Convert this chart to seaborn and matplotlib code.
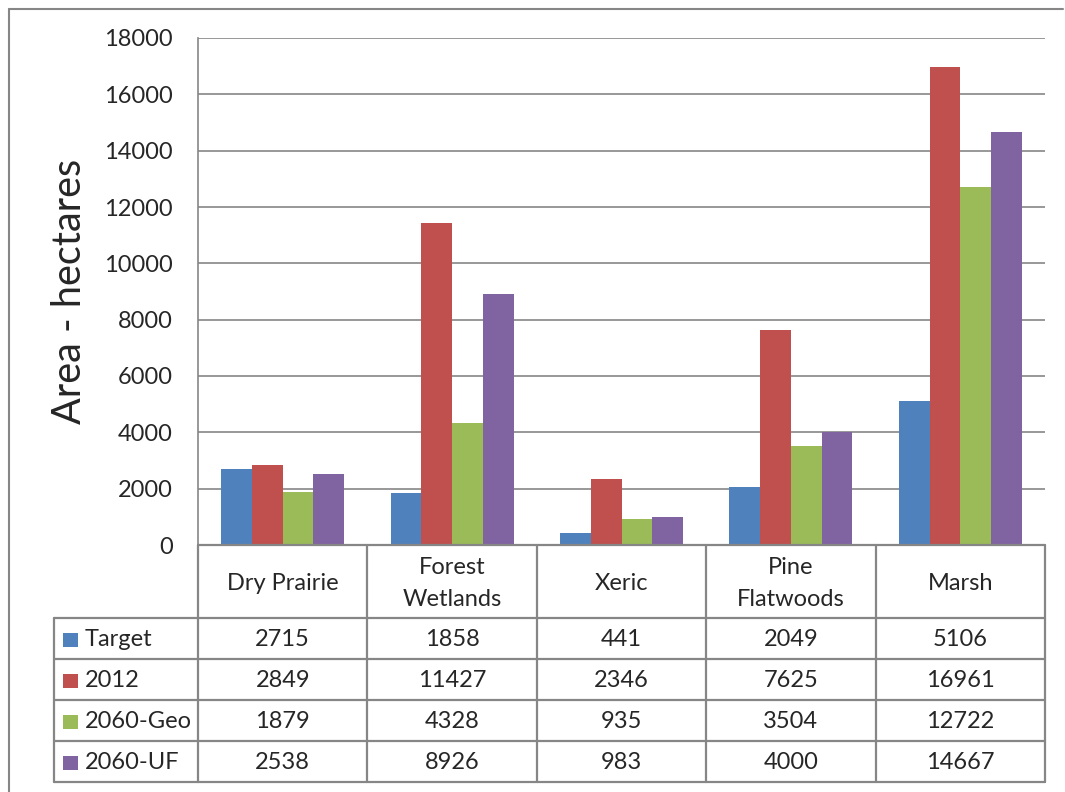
import pandas as pd
import numpy as np
import matplotlib
matplotlib.use('Agg')
import matplotlib.pyplot as plt
import seaborn as sns
from matplotlib.lines import Line2D
from matplotlib.patches import Rectangle

habitats = ['Dry Prairie', 'Forest Wetlands', 'Xeric', 'Pine Flatwoods', 'Marsh']
header_labels = ['Dry Prairie', 'Forest\nWetlands', 'Xeric', 'Pine\nFlatwoods', 'Marsh']
series_names = ['Target', '2012', '2060-Geo', '2060-UF']
target = [2715, 1858, 441, 2049, 5106]
area_2012 = [2849, 11427, 2346, 7625, 16961]
geo_2060 = [1879, 4328, 935, 3504, 12722]
uf_2060 = [2538, 8926, 983, 4000, 14667]
y_ticks = [0, 2000, 4000, 6000, 8000, 10000, 12000, 14000, 16000, 18000]
colors = ['#4F81BD', '#C0504D', '#9BBB59', '#8064A2']

series_values = [target, area_2012, geo_2060, uf_2060]
rows = []
for name, vals in zip(series_names, series_values):
    for hab, v in zip(habitats, vals):
        rows.append({'Habitat': hab, 'Series': name, 'Area': v})
df = pd.DataFrame(rows)

sns.set_style('white')
plt.rcParams['font.family'] = ['Lato', 'DejaVu Sans']

W, H = 1065, 792
grid_col = '#868686'
fs = 17
fig = plt.figure(figsize=(W / 100, H / 100), dpi=100)

# plot area in pixels
px_left, px_right, px_top, px_bot = 198, 1045, 38, 545
ax = fig.add_axes([px_left / W, 1 - px_bot / H, (px_right - px_left) / W, (px_bot - px_top) / H])
ax.yaxis.grid(True, color=grid_col, linewidth=1.2)
ax.set_axisbelow(True)
sns.barplot(data=df, x='Habitat', y='Area', hue='Series', order=habitats, hue_order=series_names,
            palette=colors, width=0.727, gap=0, saturation=1, legend=False, ax=ax, linewidth=0)
ax.set_xlim(-0.5, len(habitats) - 0.5)
ax.set_ylim(0, 18000)
ax.set_yticks(y_ticks)
ax.set_yticklabels([str(t) for t in y_ticks], fontsize=fs)
ax.tick_params(axis='y', length=0, pad=18)
ax.set_xticks([])
ax.set_xlabel('')
ax.set_ylabel('Area - hectares', fontsize=28.5, labelpad=12)
for s in ['top', 'right', 'bottom']:
    ax.spines[s].set_visible(False)
ax.spines['left'].set_color(grid_col)
ax.spines['left'].set_linewidth(1.2)

# data table below the plot, drawn in pixel coordinates
tab = fig.add_axes([0, 0, 1, 1])
tab.set_xlim(0, W)
tab.set_ylim(H, 0)
tab.axis('off')
tab.patch.set_alpha(0)

col_edges = np.linspace(px_left, px_right, len(habitats) + 1)
col_centers = (col_edges[:-1] + col_edges[1:]) / 2
legend_left = 54
header_bot = 618
row_h = 41
row_edges = [header_bot + i * row_h for i in range(len(series_names) + 1)]
lw = 1.6

# horizontal lines
tab.plot([px_left, px_right], [px_bot, px_bot], color=grid_col, lw=lw)
for y in row_edges:
    tab.plot([legend_left, px_right], [y, y], color=grid_col, lw=lw)
# vertical lines
for x in col_edges:
    tab.plot([x, x], [px_bot, row_edges[-1]], color=grid_col, lw=lw)
tab.plot([legend_left, legend_left], [header_bot, row_edges[-1]], color=grid_col, lw=lw)

# header labels
for xc, lab in zip(col_centers, header_labels):
    tab.text(xc, (px_bot + header_bot) / 2 + 2, lab, ha='center', va='center', fontsize=fs,
             linespacing=1.6)

# legend keys and values
for i, (name, vals) in enumerate(zip(series_names, series_values)):
    yc = (row_edges[i] + row_edges[i + 1]) / 2 + 1
    tab.add_patch(Rectangle((63, yc - 7), 15, 14, color=colors[i], lw=0))
    tab.text(85, yc, name, ha='left', va='center', fontsize=fs)
    for xc, v in zip(col_centers, vals):
        tab.text(xc, yc, str(v), ha='center', va='center', fontsize=fs)

# outer chart frame
fig.add_artist(Line2D([9 / W, 1063 / W], [1 - 9 / H, 1 - 9 / H], color=grid_col, lw=1.5))
fig.add_artist(Line2D([9 / W, 9 / W], [1 - 9 / H, 0], color=grid_col, lw=1.5))

fig.savefig('out.png', dpi=100)
